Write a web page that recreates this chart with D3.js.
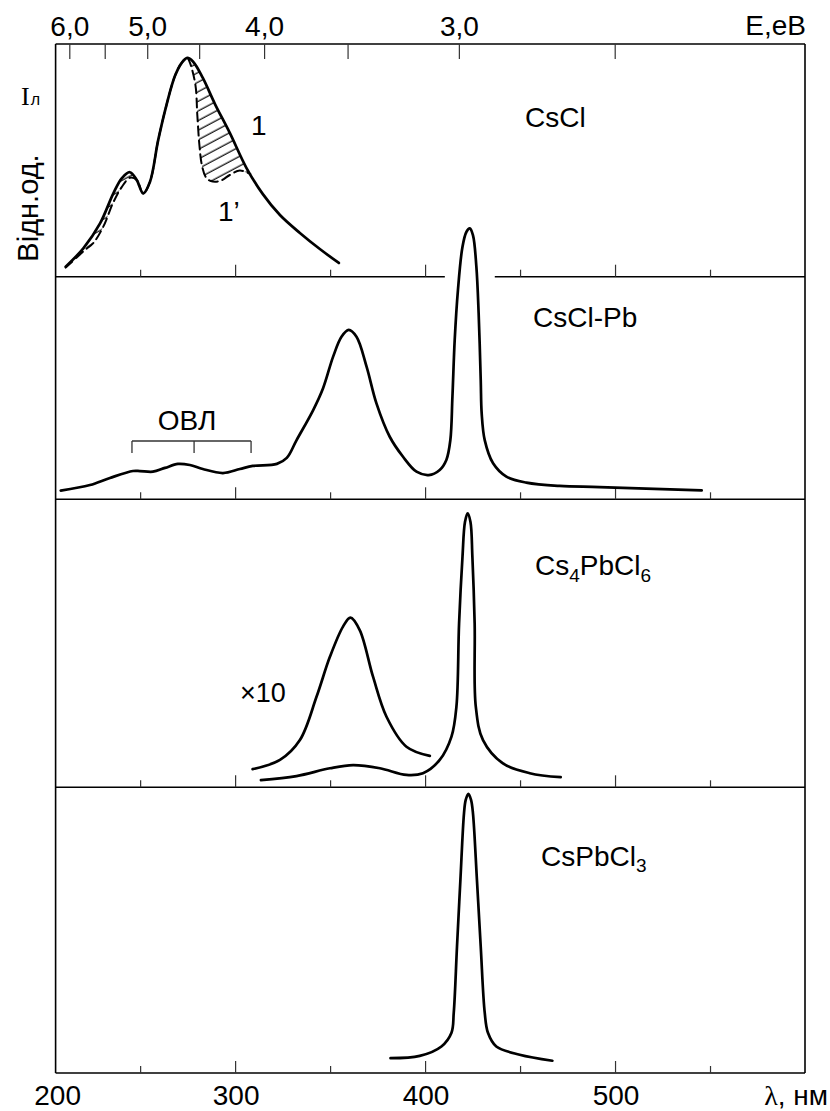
<!DOCTYPE html>
<html><head><meta charset="utf-8">
<script src="https://cdn.jsdelivr.net/npm/d3@7"></script>
<style>
body{margin:0;background:#fff}
svg{display:block}
text{font-family:"Liberation Sans",Arial,sans-serif;fill:#000}
</style>
</head><body>
<svg id="chart" width="830" height="1111"></svg>
<script>
// ---------------- data ----------------
const wavelengthDomain = [205.5, 600];
const xMajorTicks = [300, 400, 500];
const xMinorTicks = [250, 350, 450, 550];
const xTickLabels = ["200", "300", "400", "500"];
const xTickLabelValues = [200, 300, 400, 500];
const energyTicks = [6.0, 5.5, 5.0, 4.5, 4.0, 3.5, 3.0, 2.5];
const energyLabelled = [6.0, 5.0, 4.0, 3.0];

// Panel 1: CsCl, curve 1 (solid) and 1' (dashed)
const csclLambda = [210.8, 220.1, 228.9, 235.9, 240.3, 244.6, 248.2, 251.6, 255.2, 259.5, 264.0, 268.3, 271.8, 274.8, 277.9, 283.0, 289.4, 297.2, 306.0, 314.6, 323.6, 334.1, 344.6, 354.6];
const csclI      = [4.3, 12.2, 22.9, 35.8, 42.3, 44.9, 41.6, 35.8, 40.8, 58.7, 74.2, 86.2, 91.8, 94.0, 92.4, 85.4, 74.2, 61.8, 46.7, 35.5, 26.5, 18.8, 11.9, 5.9];
const cscl1pLambda = [210.8, 221.0, 225.3, 230.6, 235.9, 240.3, 244.6, 248.2, 251.6, 255.2, 259.5, 264.0, 268.3, 271.8, 274.8, 276.2, 279.1, 280.1, 281.2, 282.5, 284.6, 287.2, 292.0, 297.2, 302.5, 308.0];
const cscl1pI      = [3.9, 11.5, 14.4, 21.5, 32.0, 38.5, 42.5, 41.6, 35.8, 40.8, 58.7, 74.2, 86.2, 91.8, 94.0, 92.0, 82.4, 69.5, 56.6, 48.0, 42.8, 41.1, 41.1, 43.7, 45.6, 44.1];
const hatchRanges = [[221.0, 248.2], [274.8, 308.0]];

// Panel 2: CsCl-Pb
const csclPbLambda = [208.2, 223.6, 234.1, 246.2, 249.9, 256.7, 263.1, 269.9, 276.2, 283.0, 293.6, 302.5, 309.3, 322.0, 327.2, 332.3, 341.1, 346.3, 351.6, 356.0, 359.8, 363.9, 369.2, 374.4, 381.4, 388.4, 395.5, 401.9, 407.7, 411.2, 413.3, 414.4, 415.6, 417.3, 419.7, 421.8, 423.5, 425.2, 427.0, 428.2, 429.3, 429.8, 431.4, 435.8, 442.8, 453.3, 470.8, 491.9, 545.6];
const csclPbI      = [3.9, 6.4, 9.6, 12.7, 12.7, 12.4, 14.1, 15.9, 15.4, 13.6, 11.8, 13.6, 15.0, 15.9, 18.6, 26.5, 40.1, 49.9, 64.1, 73.0, 76.1, 73.0, 59.6, 43.1, 28.1, 19.1, 12.4, 10.9, 13.2, 17.7, 26.6, 46.1, 71.6, 94.0, 113.5, 120.2, 121.7, 118.7, 104.5, 83.6, 53.6, 38.6, 26.6, 16.2, 10.2, 7.5, 6.0, 5.5, 4.0];
const ovlBracket = [245.7, 278.4, 308.4];
const dividerGap = [410.4, 436.7];

// Panel 3: Cs4PbCl6 and x10 curve
const cs4Lambda = [313.6, 332.3, 349.9, 362.1, 376.2, 390.2, 398.9, 407.7, 413.9, 416.5, 417.9, 419.7, 421.0, 422.4, 423.9, 424.9, 426.1, 426.7, 430.5, 441.0, 455.1, 471.4];
const cs4I      = [2.5, 3.9, 6.6, 7.7, 6.6, 4.3, 4.9, 9.5, 17.6, 28.0, 56.9, 80.1, 92.1, 95.1, 92.1, 80.1, 56.9, 28.0, 16.4, 8.3, 4.9, 3.5];
const cs4x10Lambda = [309.2, 323.6, 334.1, 342.9, 349.9, 356.8, 360.7, 365.6, 372.6, 379.7, 390.2, 402.5];
const cs4x10I      = [6.3, 9.5, 16.4, 31.5, 45.3, 55.8, 58.9, 54.6, 38.4, 24.5, 14.1, 10.9];

// Panel 4: CsPbCl3
const cspbLambda = [381.8, 397.2, 408.6, 413.9, 415.1, 416.8, 418.6, 420.5, 421.4, 422.8, 424.2, 425.2, 427.3, 429.3, 431.4, 433.1, 437.5, 449.8, 467.0];
const cspbI      = [5.2, 6.0, 9.3, 14.1, 21.1, 44.2, 67.6, 91.0, 95.6, 97.7, 95.6, 91.0, 67.6, 44.2, 21.1, 14.1, 9.3, 6.4, 4.3];

(function () {
// ---------------- layout ----------------
const svg = d3.select("#chart");
const L = 55.6, R = 805, T = 44, B = 1073;
const panelEdges = [44, 276.7, 499.3, 787.3, 1073];
const xs = d3.scaleLinear().domain(wavelengthDomain).range([L, R]);
const es = d3.scaleLinear().domain([1239.84 / 6.0, 1239.84 / 2.5]).range([69.3, 614.7]);
const ys = [0, 1, 2, 3].map(i => d3.scaleLinear().domain([0, 100]).range([panelEdges[i + 1], panelEdges[i]]));
const zip = (a, b) => a.map((v, i) => [v, b[i]]);
const FONT = "Liberation Sans, Arial, sans-serif";

function line(p) {
  return d3.line().x(d => xs(d[0])).y(d => ys[p](d[1])).curve(d3.curveCatmullRom.alpha(0.5));
}

// hatch pattern
const defs = svg.append("defs");
const pat = defs.append("pattern").attr("id", "hatch").attr("patternUnits", "userSpaceOnUse")
  .attr("width", 12).attr("height", 8.5).attr("patternTransform", "rotate(-28)");
pat.append("line").attr("x1", 0).attr("x2", 12).attr("y1", 4).attr("y2", 4)
  .attr("stroke", "#000").attr("stroke-width", 1.2);

// ---------------- frame ----------------
const frame = svg.append("g").attr("stroke", "#000").attr("stroke-width", 1.6).attr("fill", "none");
frame.append("line").attr("x1", L).attr("x2", L).attr("y1", T).attr("y2", B);
frame.append("line").attr("x1", R).attr("x2", R).attr("y1", T).attr("y2", B);
frame.append("line").attr("x1", L).attr("x2", R).attr("y1", T).attr("y2", T);
frame.append("line").attr("x1", L).attr("x2", R).attr("y1", B).attr("y2", B);
frame.append("line").attr("x1", L).attr("x2", xs(dividerGap[0])).attr("y1", panelEdges[1]).attr("y2", panelEdges[1]);
frame.append("line").attr("x1", xs(dividerGap[1])).attr("x2", R).attr("y1", panelEdges[1]).attr("y2", panelEdges[1]);
[2, 3].forEach(i => frame.append("line").attr("x1", L).attr("x2", R).attr("y1", panelEdges[i]).attr("y2", panelEdges[i]));

// wavelength ticks (pointing up) on every divider and bottom axis
[1, 2, 3, 4].forEach(i => {
  [[xMajorTicks, -12], [xMinorTicks, -7]].forEach(([vals, size]) => {
    const g = svg.append("g").attr("transform", `translate(0,${panelEdges[i]})`)
      .call(d3.axisBottom(xs).tickValues(vals).tickSize(size).tickFormat(""));
    g.select(".domain").remove();
    g.selectAll(".tick line").attr("stroke", "#333").attr("stroke-width", 1.2);
  });
});

// bottom labels
svg.append("g").selectAll("text").data(xTickLabelValues).join("text")
  .attr("x", d => xs(Math.max(d, wavelengthDomain[0])) + (d < wavelengthDomain[0] ? 2 : 1))
  .attr("y", 1105).attr("text-anchor", "middle").attr("font-size", 28)
  .text((d, i) => xTickLabels[i]);
const lt = svg.append("text").attr("x", 828).attr("y", 1105).attr("text-anchor", "end").attr("font-size", 28);
lt.append("tspan").attr("font-family", "Liberation Serif, Times New Roman, serif").text("λ");
lt.append("tspan").text(", нм");

// energy axis (top)
const eg = svg.append("g").attr("transform", `translate(0,${T})`)
  .call(d3.axisTop(es).tickValues(energyTicks.map(e => 1239.84 / e)).tickSize(-15).tickPadding(8)
    .tickFormat(d => {
      const e = 1239.84 / d;
      return energyLabelled.some(v => Math.abs(v - e) < 1e-6) ? d3.format(".1f")(e).replace(".", ",") : "";
    }));
eg.select(".domain").remove();
eg.attr("font-size", 28).attr("font-family", FONT);
eg.selectAll(".tick line").attr("stroke", "#333").attr("stroke-width", 1.2);
eg.selectAll(".tick text").attr("fill", "#000").attr("dy", "0");
svg.append("text").attr("x", 806).attr("y", 35).attr("text-anchor", "end").attr("font-size", 28).text("E,eB");

// ---------------- curves ----------------
const solid1 = zip(csclLambda, csclI);
const dashed1 = zip(cscl1pLambda, cscl1pI);
hatchRanges.forEach(([lo, hi], k) => {
  const s = solid1.filter(d => d[0] >= lo && d[0] <= hi);
  const dsh = dashed1.filter(d => d[0] >= lo && d[0] <= hi).reverse();
  const poly = s.concat(dsh);
  defs.append("clipPath").attr("id", "hc" + k).append("path").attr("d", line(0)(poly) + "Z");
  svg.append("rect").attr("x", xs(lo) - 5).attr("y", T).attr("width", xs(hi) - xs(lo) + 10).attr("height", panelEdges[1] - T)
    .attr("fill", "url(#hatch)").attr("clip-path", `url(#hc${k})`);
});

const curves = svg.append("g").attr("fill", "none").attr("stroke", "#000").attr("stroke-linejoin", "round").attr("stroke-linecap", "round");
curves.append("path").attr("d", line(0)(dashed1)).attr("stroke-width", 2).attr("stroke-dasharray", "9,5");
curves.append("path").attr("d", line(0)(solid1)).attr("stroke-width", 2.7);
curves.append("path").attr("d", line(1)(zip(csclPbLambda, csclPbI))).attr("stroke-width", 2.7);
curves.append("path").attr("d", line(2)(zip(cs4Lambda, cs4I))).attr("stroke-width", 2.7);
curves.append("path").attr("d", line(2)(zip(cs4x10Lambda, cs4x10I))).attr("stroke-width", 2.7);
curves.append("path").attr("d", line(3)(zip(cspbLambda, cspbI))).attr("stroke-width", 2.7);

// OVL bracket
const ob = svg.append("g").attr("stroke", "#333").attr("stroke-width", 1.3).attr("fill", "none");
const yb = ys[1](26.2), yt = ys[1](20.8);
ob.append("line").attr("x1", xs(ovlBracket[0])).attr("x2", xs(ovlBracket[2])).attr("y1", yb).attr("y2", yb);
ovlBracket.forEach(v => ob.append("line").attr("x1", xs(v)).attr("x2", xs(v)).attr("y1", yb).attr("y2", yt));
svg.append("text").attr("x", xs(ovlBracket[1]) - 7).attr("y", 430).attr("text-anchor", "middle").attr("font-size", 28).text("ОВЛ");

// ---------------- labels ----------------
svg.append("text").attr("x", 525).attr("y", 127).attr("font-size", 28).text("CsCl");
svg.append("text").attr("x", 533).attr("y", 327).attr("font-size", 28).text("CsCl-Pb");
const l3 = svg.append("text").attr("x", 535).attr("y", 575).attr("font-size", 28);
l3.append("tspan").text("Cs");
l3.append("tspan").attr("font-size", 19).attr("dy", 7).text("4");
l3.append("tspan").attr("dy", -7).text("PbCl");
l3.append("tspan").attr("font-size", 19).attr("dy", 7).text("6");
const l4 = svg.append("text").attr("x", 541).attr("y", 866).attr("font-size", 28);
l4.append("tspan").text("CsPbCl");
l4.append("tspan").attr("font-size", 19).attr("dy", 6).text("3");

svg.append("text").attr("x", 251).attr("y", 135).attr("font-size", 28).text("1");
svg.append("text").attr("x", 218).attr("y", 221).attr("font-size", 28).text("1’");
svg.append("text").attr("x", 240).attr("y", 702).attr("font-size", 27).text("×10");

svg.append("text").attr("transform", "translate(38,208) rotate(-90)").attr("text-anchor", "middle")
  .attr("font-size", 29).text("Відн.од.");
const il = svg.append("text").attr("x", 21).attr("y", 105);
il.append("tspan").attr("font-family", "Liberation Serif, Times New Roman, serif").attr("font-size", 26).text("I");
il.append("tspan").attr("font-size", 16).attr("dx", 1).text("л");
})();
</script>
</body></html>
